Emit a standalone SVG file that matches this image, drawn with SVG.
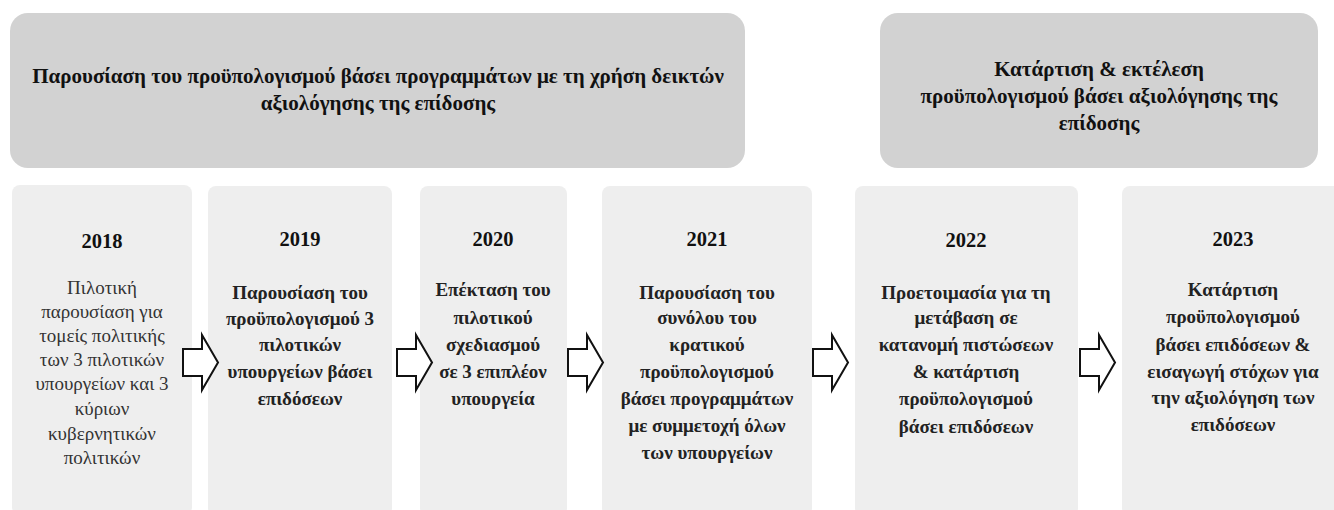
<svg xmlns="http://www.w3.org/2000/svg" width="1334" height="510" viewBox="0 0 1334 510">
<defs>
<style>
.hdr{fill:#d2d2d2}
.box{fill:#eeeeee}
.ht{font-family:"Liberation Serif","Times New Roman",serif;font-weight:bold;font-size:21px;fill:#111;text-anchor:middle}
.yr{font-family:"Liberation Serif","Times New Roman",serif;font-weight:bold;font-size:20.5px;fill:#111;text-anchor:middle}
.bt{font-family:"Liberation Serif","Times New Roman",serif;font-size:19px;fill:#222;text-anchor:middle;font-weight:bold}
.bt2{font-family:"Liberation Serif","Times New Roman",serif;font-size:19px;fill:#333;text-anchor:middle}
.arr{fill:#ffffff;stroke:#111;stroke-width:2;stroke-linejoin:miter}
</style>
<path id="arrow" d="M0,14 H19 V0 L35,27.5 L19,55 V41 H0 Z"/>
</defs>
<rect width="1334" height="510" fill="#ffffff"/>

<g id="header-left">
<rect class="hdr" x="10" y="13" width="735" height="155" rx="18"/>
<text class="ht" x="378" y="83">Παρουσίαση του προϋπολογισμού βάσει προγραμμάτων με τη χρήση δεικτών</text>
<text class="ht" x="378" y="110">αξιολόγησης της επίδοσης</text>
</g>

<g id="header-right">
<rect class="hdr" x="880" y="13" width="438" height="155" rx="18"/>
<text class="ht" x="1099" y="76">Κατάρτιση &amp; εκτέλεση</text>
<text class="ht" x="1099" y="103">προϋπολογισμού βάσει αξιολόγησης της</text>
<text class="ht" x="1099" y="130">επίδοσης</text>
</g>

<g id="y2018">
<rect class="box" x="12" y="185" width="180" height="330" rx="8"/>
<text class="yr" x="102" y="248">2018</text>
<text class="bt2" x="102" y="294">Πιλοτική</text>
<text class="bt2" x="102" y="318">παρουσίαση για</text>
<text class="bt2" x="102" y="342">τομείς πολιτικής</text>
<text class="bt2" x="102" y="366">των 3 πιλοτικών</text>
<text class="bt2" x="102" y="390">υπουργείων και 3</text>
<text class="bt2" x="102" y="415">κύριων</text>
<text class="bt2" x="102" y="440">κυβερνητικών</text>
<text class="bt2" x="102" y="464">πολιτικών</text>
</g>

<g id="y2019">
<rect class="box" x="208" y="186" width="184" height="330" rx="8"/>
<text class="yr" x="300" y="246">2019</text>
<text class="bt" x="300" y="299">Παρουσίαση του</text>
<text class="bt" x="300" y="325">προϋπολογισμού 3</text>
<text class="bt" x="300" y="351">πιλοτικών</text>
<text class="bt" x="300" y="378">υπουργείων βάσει</text>
<text class="bt" x="300" y="405">επιδόσεων</text>
</g>

<g id="y2020">
<rect class="box" x="420" y="186" width="147" height="330" rx="8"/>
<text class="yr" x="493" y="246">2020</text>
<text class="bt" x="493" y="296">Επέκταση του</text>
<text class="bt" x="493" y="324">πιλοτικού</text>
<text class="bt" x="493" y="351">σχεδιασμού</text>
<text class="bt" x="493" y="378">σε 3 επιπλέον</text>
<text class="bt" x="493" y="405">υπουργεία</text>
</g>

<g id="y2021">
<rect class="box" x="602" y="186" width="210" height="330" rx="8"/>
<text class="yr" x="707" y="246">2021</text>
<text class="bt" x="707" y="299">Παρουσίαση του</text>
<text class="bt" x="707" y="324">συνόλου του</text>
<text class="bt" x="707" y="351">κρατικού</text>
<text class="bt" x="707" y="378">προϋπολογισμού</text>
<text class="bt" x="707" y="405">βάσει προγραμμάτων</text>
<text class="bt" x="707" y="432">με συμμετοχή όλων</text>
<text class="bt" x="707" y="459">των υπουργείων</text>
</g>

<g id="y2022">
<rect class="box" x="855" y="186" width="223" height="330" rx="8"/>
<text class="yr" x="966" y="247">2022</text>
<text class="bt" x="966" y="299">Προετοιμασία για τη</text>
<text class="bt" x="966" y="324">μετάβαση σε</text>
<text class="bt" x="966" y="351">κατανομή πιστώσεων</text>
<text class="bt" x="966" y="378">&amp; κατάρτιση</text>
<text class="bt" x="966" y="405">προϋπολογισμού</text>
<text class="bt" x="966" y="433">βάσει επιδόσεων</text>
</g>

<g id="y2023">
<rect class="box" x="1122" y="186" width="222" height="330" rx="8"/>
<text class="yr" x="1233" y="246">2023</text>
<text class="bt" x="1233" y="296">Κατάρτιση</text>
<text class="bt" x="1233" y="323">προϋπολογισμού</text>
<text class="bt" x="1233" y="351">βάσει επιδόσεων &amp;</text>
<text class="bt" x="1233" y="378">εισαγωγή στόχων για</text>
<text class="bt" x="1233" y="404">την αξιολόγηση των</text>
<text class="bt" x="1233" y="431">επιδόσεων</text>
</g>

<g id="connectors">
<use href="#arrow" class="arr" x="183" y="335"/>
<use href="#arrow" class="arr" x="397" y="335"/>
<use href="#arrow" class="arr" x="568" y="335"/>
<use href="#arrow" class="arr" x="813" y="335"/>
<use href="#arrow" class="arr" x="1080" y="335"/>
</g>
</svg>
